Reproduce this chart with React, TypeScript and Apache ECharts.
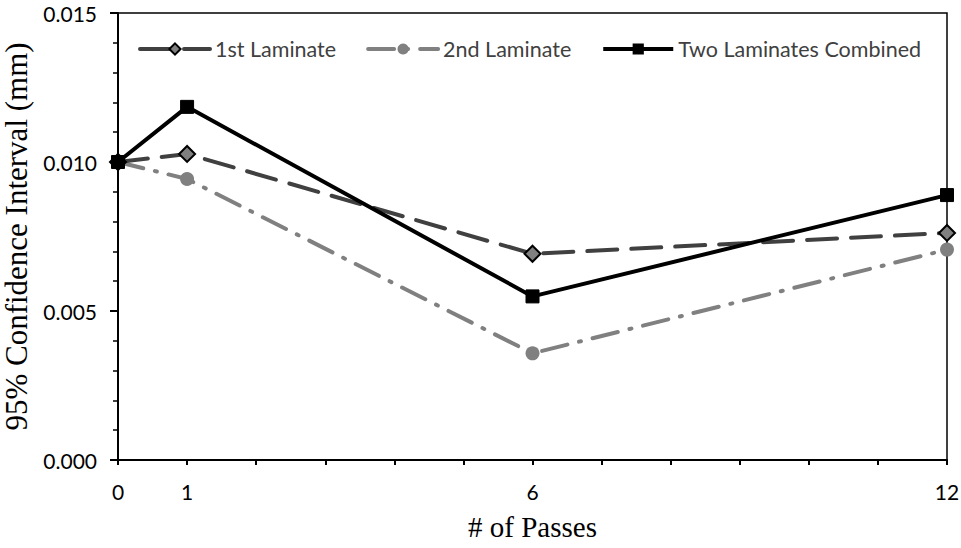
import React, { useEffect, useRef } from "react";
import * as echarts from "echarts";

const passes = [0, 1, 6, 12];
const firstLaminate = [0.01, 0.01027, 0.00692, 0.00762];
const secondLaminate = [0.01, 0.00943, 0.00358, 0.00706];
const combined = [0.01, 0.01185, 0.00549, 0.00889];
const xLabelsShown = [0, 1, 6, 12];
const yTicks = [0, 0.005, 0.01, 0.015];

const sansFont = "Lato";
const serifFont = "Liberation Serif";

export default function App() {
  const ref = useRef<HTMLDivElement>(null);
  useEffect(() => {
    if (!ref.current) return;
    const chart = echarts.init(ref.current, undefined, { renderer: "svg" });
    const toPairs = (vals: number[]) => passes.map((p, i) => [p, vals[i]]);
    chart.setOption({
      animation: false,
      backgroundColor: "#ffffff",
      grid: {
        left: 118,
        right: 14,
        top: 13,
        bottom: 88,
        show: true,
        borderColor: "#000",
        borderWidth: 1.5,
        containLabel: false,
        outerBoundsMode: "none",
      },
      legend: {
        left: 133,
        top: 33,
        itemWidth: 70,
        itemHeight: 14,
        itemGap: 30,
        lineStyle: { width: 4 },
        textStyle: { fontFamily: sansFont, fontSize: 21.5, color: "#404040" },
        data: ["1st Laminate", "2nd Laminate", "Two Laminates Combined"],
      },
      xAxis: {
        type: "value",
        min: 0,
        max: 12,
        interval: 1,
        name: "# of Passes",
        nameLocation: "middle",
        nameGap: 52,
        nameTextStyle: { fontFamily: serifFont, fontSize: 29, color: "#000", lineHeight: 30 },
        axisLine: { show: true, lineStyle: { color: "#000", width: 2 } },
        axisTick: { show: true, inside: false, length: 5, lineStyle: { color: "#000", width: 2 } },
        splitLine: { show: false },
        axisLabel: {
          margin: 21,
          fontFamily: sansFont,
          fontSize: 21,
          color: "#000",
          formatter: (v: number) => (xLabelsShown.includes(v) ? String(v) : ""),
        },
      },
      yAxis: {
        type: "value",
        min: yTicks[0],
        max: yTicks[yTicks.length - 1],
        interval: 0.005,
        name: "95% Confidence Interval (mm)",
        nameLocation: "middle",
        nameGap: 82,
        nameTextStyle: { fontFamily: serifFont, fontSize: 31, color: "#000", lineHeight: 32 },
        axisLine: { show: true, lineStyle: { color: "#000", width: 2 } },
        axisTick: { show: true, inside: false, length: 8, lineStyle: { color: "#000", width: 2 } },
        minorTick: { show: true, splitNumber: 5, length: 5, lineStyle: { color: "#000", width: 1.5 } },
        splitLine: { show: false },
        axisLabel: {
          margin: 21,
          fontFamily: sansFont,
          fontSize: 21,
          color: "#000",
          formatter: (v: number) => v.toFixed(3),
        },
      },
      series: [
        {
          name: "1st Laminate",
          type: "line",
          data: toPairs(firstLaminate),
          z: 3,
          lineStyle: { color: "#404040", width: 4, type: [30, 14], cap: "round" },
          symbol: "diamond",
          symbolSize: 16,
          itemStyle: { color: "#808080", borderColor: "#000", borderWidth: 2 },
        },
        {
          name: "2nd Laminate",
          type: "line",
          data: toPairs(secondLaminate),
          z: 2,
          lineStyle: { color: "#808080", width: 4, type: [26, 12, 2, 12], cap: "round" },
          symbol: "circle",
          symbolSize: 14,
          itemStyle: { color: "#808080", borderColor: "#808080", borderWidth: 0 },
        },
        {
          name: "Two Laminates Combined",
          type: "line",
          data: toPairs(combined),
          z: 4,
          lineStyle: { color: "#000", width: 4 },
          symbol: "rect",
          symbolSize: 13,
          itemStyle: { color: "#000", borderColor: "#000" },
        },
      ],
    });
    return () => chart.dispose();
  }, []);
  return (
    <div
      ref={ref}
      style={{ position: "fixed", left: 0, top: 0, width: 961, height: 548, background: "#fff" }}
    />
  );
}
